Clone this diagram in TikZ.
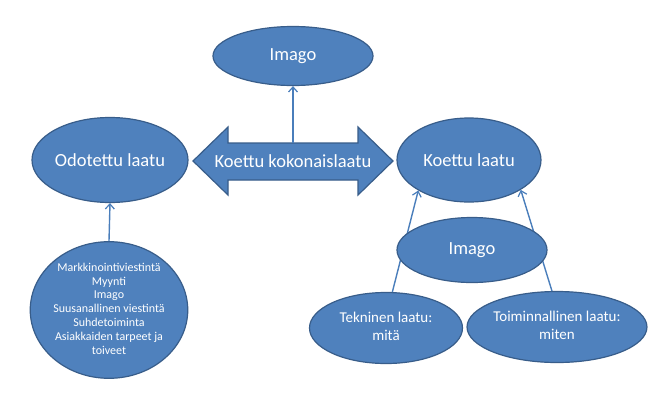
\documentclass[tikz,border=0pt]{standalone}
\usepackage{fontspec}
\setmainfont{Carlito}
\usetikzlibrary{shapes.geometric,arrows.meta}
\definecolor{ofill}{HTML}{4F81BD}
\definecolor{oline}{HTML}{385D8A}
\definecolor{arrowc}{HTML}{4A7EBB}
\newcommand{\clines}[1]{\begin{tabular}{@{}c@{}}#1\end{tabular}}
\begin{document}
\begin{tikzpicture}[x=1pt,y=-1pt,
  blob/.style={ellipse,draw=oline,fill=ofill,line width=1.2pt,inner sep=0pt,
    text=white,font=\fontsize{18.5}{22}\selectfont},
  conn/.style={draw=arrowc,line width=1.4pt,-{Straight Barb[length=5pt,width=9pt,line width=1.2pt]}}]
\useasboundingbox (0,0) rectangle (649,416);
\fill[white] (0,0) rectangle (649,416);
% nodes
\node[blob,minimum width=160pt,minimum height=59pt] (imgtop) at (293,56) {Imago};
\node[blob,minimum width=156pt,minimum height=85pt] (odo) at (110,160) {Odotettu laatu};
\node[blob,minimum width=144pt,minimum height=84pt] (koe) at (469,160) {Koettu laatu};
\node[blob,minimum width=148pt,minimum height=124pt,
  font=\fontsize{12}{13.8}\selectfont] (circ) at (109,310)
  {\clines{Markkinointiviestintä\\Myynti\\Imago\\Suusanallinen viestintä\\Suhdetoiminta\\Asiakkaiden tarpeet ja\\toiveet}};
\node[blob,minimum width=153pt,minimum height=71pt,
  font=\fontsize{15}{18.5}\selectfont] (tek) at (386,328) {\clines{Tekninen laatu:\\mitä}};
\node[blob,minimum width=151pt,minimum height=71pt,
  font=\fontsize{15}{18.5}\selectfont] (toi) at (557,327) {\clines{Toiminnallinen laatu:\\miten}};
% double arrow
\filldraw[fill=ofill,draw=oline,line width=1.2pt]
  (193,161) -- (228,127) -- (228,143) -- (358,143) -- (358,127) -- (393,161)
  -- (358,195) -- (358,180) -- (228,180) -- (228,195) -- cycle;
\node[text=white,font=\fontsize{18.5}{22}\selectfont] (kok) at (293,161) {Koettu kokonaislaatu};
\coordinate (koktop) at (293,143);
% connectors
\draw[conn] (koktop) -- (imgtop.south);
\draw[conn] (circ.north) -- (odo.south);
\draw[conn] (tek.80) -- (koe.211);
\draw[conn] (toi.98) -- (koe.330);
% lower imago drawn over the connectors
\node[blob,minimum width=150pt,minimum height=65pt] (img2) at (472,250) {Imago};
\end{tikzpicture}
\end{document}
